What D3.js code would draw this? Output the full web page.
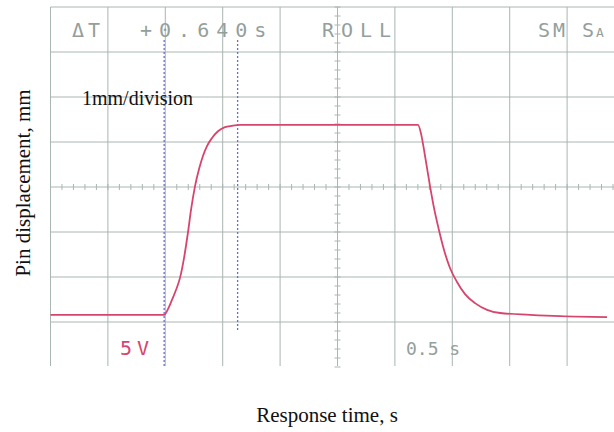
<!DOCTYPE html>
<html>
<head>
<meta charset="utf-8">
<script src="https://cdn.jsdelivr.net/npm/d3@7"></script>
<style>
  html, body { margin: 0; padding: 0; background: #fff; }
  svg { display: block; }
</style>
</head>
<body>
<svg id="chart" width="614" height="432"></svg>
<script>
// trace: time (s) vs pin displacement (mm, 1 mm/div from bottom of screen)
const timeS = [0, 0.99, 1.024, 1.058, 1.093, 1.128, 1.163, 1.198, 1.224, 1.259, 1.294, 1.328, 1.363, 1.407,
  1.459, 1.52, 1.581, 1.651, 3.201, 3.228, 3.254, 3.28, 3.306, 3.341, 3.384, 3.428, 3.48, 3.541, 3.611,
  3.698, 3.803, 3.916, 4.177, 4.438, 4.848];
const dispMm = [1.16, 1.16, 1.29, 1.49, 1.71, 1.98, 2.42, 3.0, 3.49, 4.02, 4.4, 4.69, 4.91, 5.09,
  5.24, 5.33, 5.36, 5.38, 5.38, 5.18, 4.82, 4.42, 4.02, 3.53, 3.04, 2.6, 2.2, 1.89, 1.62,
  1.42, 1.27, 1.2, 1.16, 1.13, 1.11];

const cursorsS = [0.99, 1.63];          // the two dotted time cursors
const headerLabels = ['\u0394T', '+0.640s', 'ROLL', 'SM'];
const voltsLabel = '5V';
const timebaseLabel = '0.5 s';
const scaleLabel = '1mm/division';
const yTitle = 'Pin displacement, mm';
const xTitle = 'Response time, s';

const svg = d3.select('#chart');

let x = d3.scaleLinear().domain([0, 5]).range([50.5, 624.5]),
  y = d3.scaleLinear().domain([0, 8]).range([367, 7]);

const gridColor = '#a9b6b2',
  textGray = '#949f9c',
  traceColor = '#d6456d',
  cursorColor = '#6a6ec8';

let grid = svg.append('g').attr('class', 'grid');

// vertical division lines (no right edge, it is cropped)
grid.selectAll('line.v')
  .data(d3.range(0, 10))
  .enter().append('line')
  .attr('class', 'v')
  .attr('x1', d => x(d * 0.5)).attr('x2', d => x(d * 0.5))
  .attr('y1', y(8)).attr('y2', y(0) - 1)
  .attr('stroke', gridColor).attr('stroke-width', 1);

// horizontal division lines, no bottom edge
grid.selectAll('line.h')
  .data(d3.range(1, 9))
  .enter().append('line')
  .attr('class', 'h')
  .attr('x1', x(0)).attr('x2', 614)
  .attr('y1', d => y(d)).attr('y2', d => y(d))
  .attr('stroke', gridColor).attr('stroke-width', 1);

// minor ticks on the centre cross
grid.selectAll('line.tx')
  .data(d3.range(0, 50))
  .enter().append('line')
  .attr('class', 'tx')
  .attr('x1', d => x(d * 0.1)).attr('x2', d => x(d * 0.1))
  .attr('y1', y(4) - 3).attr('y2', y(4) + 3)
  .attr('stroke', gridColor).attr('stroke-width', 1);

grid.selectAll('line.ty')
  .data(d3.range(0, 41))
  .enter().append('line')
  .attr('class', 'ty')
  .attr('x1', x(2.5) - 3).attr('x2', x(2.5) + 3)
  .attr('y1', d => y(d * 0.2)).attr('y2', d => y(d * 0.2))
  .attr('stroke', gridColor).attr('stroke-width', 1);

// cursors
svg.selectAll('line.cursor')
  .data(cursorsS)
  .enter().append('line')
  .attr('class', 'cursor')
  .attr('x1', d => x(d)).attr('x2', d => x(d))
  .attr('y1', 40)
  .attr('y2', (d, i) => i === 0 ? y(0) : 332)
  .attr('stroke', cursorColor)
  .attr('stroke-width', 1.3)
  .attr('stroke-dasharray', '2,2');

// trace
const pts = timeS.map((t, i) => [t, dispMm[i]]);
let line = d3.line()
  .x(d => x(d[0]))
  .y(d => y(d[1]))
  .curve(d3.curveMonotoneX);

svg.append('path')
  .datum(pts)
  .attr('d', line)
  .attr('fill', 'none')
  .attr('stroke', traceColor)
  .attr('stroke-width', 1.8);

// scope readouts
const headerX = [0.187, 0.78, 2.365, 4.246];
const headerSpacing = [4, 7, 7, 3];
let hdr = svg.append('g')
  .attr('font-family', 'DejaVu Sans Mono, monospace')
  .attr('font-size', 20)
  .attr('fill', textGray);

hdr.selectAll('text')
  .data(headerLabels)
  .enter().append('text')
  .attr('x', (d, i) => x(headerX[i]))
  .attr('y', 37)
  .attr('letter-spacing', (d, i) => headerSpacing[i])
  .text(d => d);

let sa = hdr.append('text')
  .attr('x', 582).attr('y', 37);
sa.append('tspan').text('S');
sa.append('tspan').attr('font-size', 13).attr('dx', 2).text('A');

svg.append('text')
  .attr('x', 120).attr('y', 355)
  .attr('font-family', 'DejaVu Sans Mono, monospace')
  .attr('font-size', 20)
  .attr('letter-spacing', 5)
  .attr('fill', traceColor)
  .text(voltsLabel);

svg.append('text')
  .attr('x', 406).attr('y', 355)
  .attr('font-family', 'DejaVu Sans Mono, monospace')
  .attr('font-size', 18)
  .attr('fill', textGray)
  .text(timebaseLabel);

// paper labels
svg.append('text')
  .attr('x', 82).attr('y', 105)
  .attr('font-family', 'Liberation Serif, Times New Roman, serif')
  .attr('font-size', 20)
  .attr('fill', '#111')
  .text(scaleLabel);

svg.append('text')
  .attr('transform', 'translate(30, 183) rotate(-90)')
  .attr('text-anchor', 'middle')
  .attr('font-family', 'Liberation Serif, Times New Roman, serif')
  .attr('font-size', 21)
  .attr('fill', '#111')
  .text(yTitle);

svg.append('text')
  .attr('x', 327).attr('y', 422)
  .attr('text-anchor', 'middle')
  .attr('font-family', 'Liberation Serif, Times New Roman, serif')
  .attr('font-size', 21)
  .attr('fill', '#111')
  .text(xTitle);
</script>
</body>
</html>
